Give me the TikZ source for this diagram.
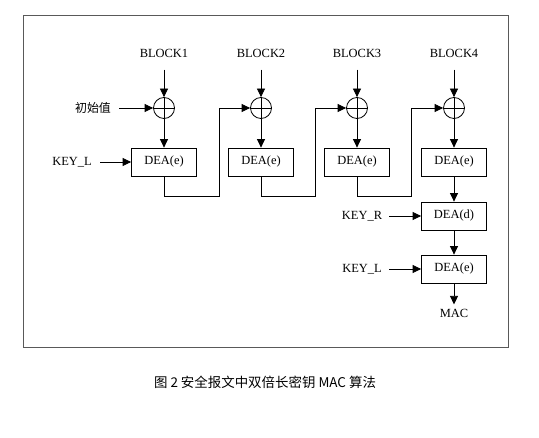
\documentclass[tikz,border=0pt]{standalone}
\usepackage{fontspec}
\setmainfont{Liberation Serif}
\newfontfamily\cjk{Noto Sans CJK SC}
\usetikzlibrary{arrows.meta,calc}
\begin{document}
\begin{tikzpicture}[x=1bp,y=-1bp,
  line width=0.8bp,
  arr/.style={-{Triangle[length=8.5bp,width=8bp]}},
  lbl/.style={font=\fontsize{12.5}{14}\selectfont, inner sep=0pt},
  deabox/.style={draw, minimum width=65bp, minimum height=28bp, inner sep=0pt, font=\fontsize{12.5}{14}\selectfont},
  xorc/.style={circle, draw, minimum size=21bp, inner sep=0pt}
]
\useasboundingbox (0,0) rectangle (539,438);
\fill[white] (0,0) rectangle (539,438);
\draw[gray!70!black, line width=1bp] (23,16) rectangle (508,347);

% columns
\foreach \i/\x in {1/164,2/261,3/357,4/454}{
  \node[lbl] (b\i) at (\x,53) {BLOCK\i};
  \node[xorc] (x\i) at (\x,108) {};
  \draw (x\i.north) -- (x\i.south) (x\i.west) -- (x\i.east);
  \node[deabox] (d\i) at (\x,162) {DEA(e)};
  \draw[arr] (b\i.south) ++(0,12) -- (x\i.north);
  \draw[arr] (x\i.south) -- (d\i.north);
}

\node[lbl, font=\cjk\fontsize{12}{14}\selectfont] (iv) at (93,108) {初始值};
\draw[arr] ($(iv.east)+(8,0)$) -- (x1.west);
\node[lbl] (kl1) at (72,162) {KEY\_L};
\draw[arr] ($(kl1.east)+(8,0)$) -- (d1.west);

% feedback
\draw[arr] (d1.south) -- ++(0,20) -| ($(x2.west)+(-31,0)$) -- (x2.west);
\draw[arr] (d2.south) -- ++(0,20) -| ($(x3.west)+(-31,0)$) -- (x3.west);
\draw[arr] (d3.south) -- ++(0,20) -| ($(x4.west)+(-32,0)$) -- (x4.west);

% final chain
\node[deabox] (dd) at (454,216) {DEA(d)};
\node[deabox] (de) at (454,269) {DEA(e)};
\node[lbl] (mac) at (454,313) {MAC};
\draw[arr] (d4.south) -- (dd.north);
\draw[arr] (dd.south) -- (de.north);
\draw[arr] (de.south) -- ($(mac.north)+(0,-4)$);

\node[lbl] (kr) at (362,216) {KEY\_R};
\draw[arr] ($(kr.east)+(7,0)$) -- (dd.west);
\node[lbl] (kl2) at (362,269) {KEY\_L};
\draw[arr] ($(kl2.east)+(7,0)$) -- (de.west);

\node[font=\cjk\fontsize{13.5}{16}\selectfont, inner sep=0pt] (cap) at (265,382) {图 2 安全报文中双倍长密钥 MAC 算法};
\end{tikzpicture}
\end{document}
